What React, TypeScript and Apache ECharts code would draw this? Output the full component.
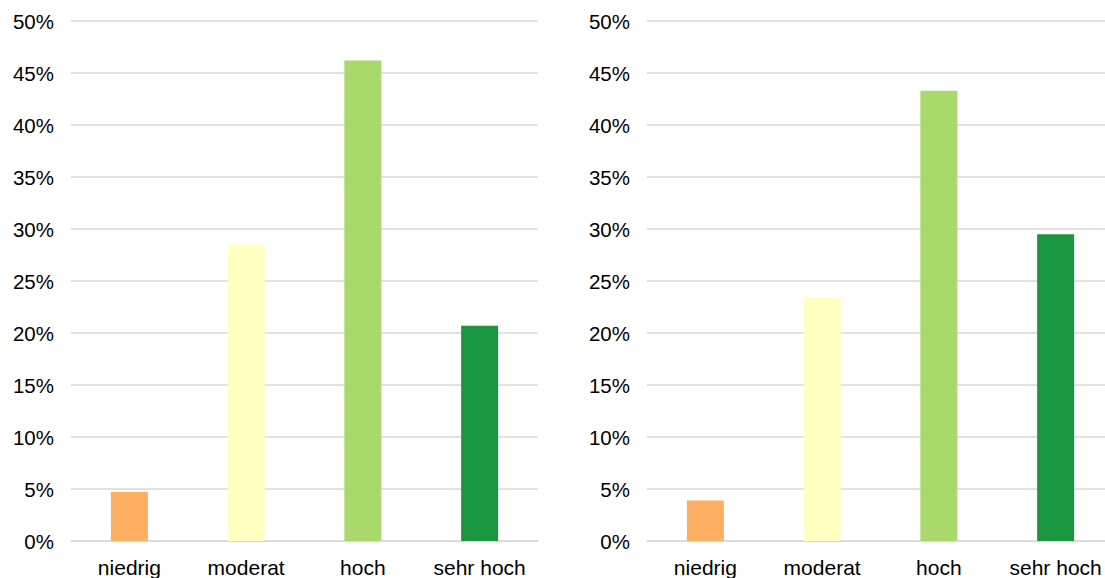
import React, { useEffect, useRef } from "react";
import * as echarts from "echarts";

// Category labels shared by both panels
const categories = ["niedrig", "moderat", "hoch", "sehr hoch"];

// Shares in percent per category
const leftValues = [4.7, 28.5, 46.2, 20.7];
const rightValues = [3.9, 23.4, 43.3, 29.5];

// One colour per category, from orange (low) to dark green (very high)
const barColors = ["#fdae61", "#ffffc0", "#a9d96b", "#1a9641"];

const gridColor = "#d9d9d9";
const textColor = "#000000";
const fontFamily = "'Liberation Sans', Arial, sans-serif";

function buildSeriesData(values: number[]) {
  return values.map((v, i) => ({ value: v, itemStyle: { color: barColors[i] } }));
}

export default function App() {
  const ref = useRef<HTMLDivElement>(null);

  useEffect(() => {
    if (!ref.current) return;
    const chart = echarts.init(ref.current, null, { renderer: "svg" });

    const xAxisBase = (gridIndex: number) => ({
      type: "category" as const,
      gridIndex,
      data: categories,
      axisTick: { show: false },
      axisLine: { show: true, lineStyle: { color: gridColor, width: 1.5 } },
      axisLabel: {
        color: textColor,
        fontSize: 21,
        fontFamily,
        margin: 16,
        interval: 0,
      },
    });

    const yAxisBase = (gridIndex: number) => ({
      type: "value" as const,
      gridIndex,
      min: 0,
      max: 50,
      interval: 5,
      axisLine: { show: false },
      axisTick: { show: false },
      splitLine: { show: true, lineStyle: { color: gridColor, width: 1.5 } },
      axisLabel: {
        color: textColor,
        fontSize: 20.5,
        fontFamily,
        margin: 17,
        formatter: "{value}%",
      },
    });

    chart.setOption({
      animation: false,
      textStyle: { fontFamily },
      grid: [
        { left: 71, top: 21, width: 467, bottom: 36.5, containLabel: false },
        { left: 647, top: 21, width: 467, bottom: 36.5, containLabel: false },
      ],
      xAxis: [xAxisBase(0), xAxisBase(1)],
      yAxis: [yAxisBase(0), yAxisBase(1)],
      series: [
        {
          type: "bar",
          xAxisIndex: 0,
          yAxisIndex: 0,
          barWidth: 37,
          data: buildSeriesData(leftValues),
        },
        {
          type: "bar",
          xAxisIndex: 1,
          yAxisIndex: 1,
          barWidth: 37,
          data: buildSeriesData(rightValues),
        },
      ],
    });

    return () => chart.dispose();
  }, []);

  // The right panel runs past the visible edge, so the chart surface is wider
  // than the frame that clips it.
  return (
    <div
      style={{
        position: "absolute",
        left: 0,
        top: 0,
        width: 1105,
        height: 578,
        overflow: "hidden",
        background: "#ffffff",
      }}
    >
      <div ref={ref} style={{ width: 1130, height: 578 }} />
    </div>
  );
}
